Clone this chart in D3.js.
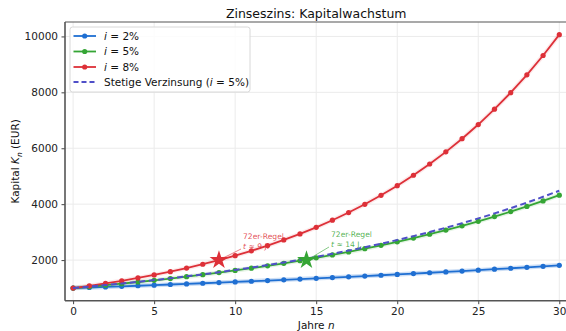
<!DOCTYPE html>
<html><head><meta charset="utf-8">
<script src="https://cdn.jsdelivr.net/npm/d3@7"></script>
<style>body{margin:0;background:#fff}svg{display:block;font-family:"DejaVu Sans",sans-serif}</style>
</head><body><svg id="c" width="566" height="331"></svg>
<script>
const years = d3.range(0, 31);
const k2 = [1000,1020,1040.4,1061.21,1082.43,1104.08,1126.16,1148.69,1171.66,1195.09,1218.99,1243.37,1268.24,1293.61,1319.48,1345.87,1372.79,1400.24,1428.25,1456.81,1485.95,1515.67,1545.98,1576.9,1608.44,1640.61,1673.42,1706.89,1741.02,1775.84,1811.36];
const k5 = [1000,1050,1102.5,1157.63,1215.51,1276.28,1340.1,1407.1,1477.46,1551.33,1628.89,1710.34,1795.86,1885.65,1979.93,2078.93,2182.87,2292.02,2406.62,2526.95,2653.3,2785.96,2925.26,3071.52,3225.1,3386.35,3555.67,3733.46,3920.13,4116.14,4321.94];
const k8 = [1000,1080,1166.4,1259.71,1360.49,1469.33,1586.87,1713.82,1850.93,1999.0,2158.92,2331.64,2518.17,2719.62,2937.19,3172.17,3425.94,3700.02,3996.02,4315.7,4660.96,5033.83,5436.54,5871.46,6341.18,6848.48,7396.35,7988.06,8627.11,9317.27,10062.66];
const kCont = [1000,1051.27,1105.17,1161.83,1221.4,1284.03,1349.86,1419.07,1491.82,1568.31,1648.72,1733.25,1822.12,1915.54,2013.75,2117.0,2225.54,2339.65,2459.6,2585.71,2718.28,2857.65,3004.17,3158.19,3320.12,3490.34,3669.3,3857.43,4055.2,4263.11,4481.69];
const seriesNames = ["i = 2%", "i = 5%", "i = 8%", "Stetige Verzinsung (i = 5%)"];
const ruleYears = [9, 14.4];
const ruleValues = [2000, 2000];
const ruleLines1 = ["72er-Regel", "72er-Regel"];
const ruleLines2 = ["9 J.", "14 J."];
const xTicks = [0,5,10,15,20,25,30];
const yTicks = [2000,4000,6000,8000,10000];

const colors = ["#1f6fd2", "#35a535", "#dd3038", "#4f4fc8"];
const halo = [0.22, 0.12, 0.1];
const svg = d3.select("#c");
const L = 65, R = 567.4, T = 22, B = 300.7;
const x = d3.scaleLinear().domain([-0.5, 30.5]).range([L, R]);
const y = d3.scaleLinear().domain([547, 10516]).range([B, T]);

// grid
const g = svg.append("g");
g.selectAll(".gx").data(xTicks).join("line").attr("x1", d=>x(d)).attr("x2", d=>x(d)).attr("y1", T).attr("y2", B).attr("stroke", "#ebebeb").attr("stroke-width", 1);
g.selectAll(".gy").data(yTicks).join("line").attr("y1", d=>y(d)).attr("y2", d=>y(d)).attr("x1", L).attr("x2", R).attr("stroke", "#ebebeb").attr("stroke-width", 1);

// axes
const xAxis = svg.append("g").attr("transform", `translate(0,${B})`).call(d3.axisBottom(x).tickValues(xTicks).tickSize(3.5).tickPadding(3));
const yAxis = svg.append("g").attr("transform", `translate(${L},0)`).call(d3.axisLeft(y).tickValues(yTicks).tickFormat(d3.format("d")).tickSize(3.5).tickPadding(3.5));
[xAxis, yAxis].forEach(a => {
  a.select(".domain").remove();
  a.selectAll("text").attr("font-size", 10.5).attr("fill", "#222").attr("font-family", "DejaVu Sans");
  a.selectAll("line").attr("stroke", "#444");
});
// spines
svg.append("line").attr("x1", L).attr("x2", L).attr("y1", T).attr("y2", B).attr("stroke", "#555").attr("stroke-width", 1.6);
svg.append("line").attr("x1", L).attr("x2", R).attr("y1", B).attr("y2", B).attr("stroke", "#555").attr("stroke-width", 1.6);
svg.append("line").attr("x1", L).attr("x2", R).attr("y1", T).attr("y2", T).attr("stroke", "#555").attr("stroke-width", 1.2);

const line = d3.line().x((d,i)=>x(years[i])).y(d=>y(d));
const data = [k2, k5, k8];
data.forEach((vals, s) => {
  svg.append("path").datum(vals).attr("d", line).attr("fill", "none").attr("stroke", colors[s]).attr("stroke-width", 4.5).attr("stroke-opacity", halo[s]);
  svg.append("path").datum(vals).attr("d", line).attr("fill", "none").attr("stroke", colors[s]).attr("stroke-width", 1.8);
  svg.append("g").selectAll("circle").data(vals).join("circle").attr("cx", (d,i)=>x(years[i])).attr("cy", d=>y(d)).attr("r", 2.6).attr("fill", colors[s]);
});
svg.append("path").datum(kCont).attr("d", d3.line().curve(d3.curveMonotoneX).x((d,i)=>x(years[i])).y(d=>y(d))).attr("fill", "none").attr("stroke", colors[3]).attr("stroke-width", 2).attr("stroke-dasharray", "6,3.5");

// 72er-Regel annotations
const annColors = [colors[2], colors[1]];
const textPos = [[243, 239], [331, 237]];
ruleYears.forEach((ry, k) => {
  const sx = x(ry), sy = y(ruleValues[k]);
  const [tx, ty] = textPos[k];
  svg.append("line").attr("x1", sx + 4).attr("y1", sy - 2).attr("x2", tx - 2).attr("y2", ty + 10).attr("stroke", annColors[k]).attr("stroke-width", 1).attr("stroke-opacity", 0.6);
  svg.append("path").attr("d", d3.symbol(d3.symbolStar, 110)()).attr("transform", `translate(${sx},${sy})`).attr("fill", annColors[k]);
  const t = svg.append("text").attr("x", tx).attr("y", ty).attr("font-size", 7.6).attr("fill", annColors[k]).attr("fill-opacity", 0.85);
  t.append("tspan").text(ruleLines1[k]);
  const t2 = svg.append("text").attr("x", tx).attr("y", ty + 9.5).attr("font-size", 7.6).attr("fill", annColors[k]).attr("fill-opacity", 0.85);
  t2.append("tspan").attr("font-style", "italic").text("t");
  t2.append("tspan").text(" ≈ " + ruleLines2[k]);
});

// title & labels
svg.append("text").attr("x", (L + R) / 2).attr("y", 18).attr("text-anchor", "middle").attr("font-size", 12.5).attr("fill", "#111").text("Zinseszins: Kapitalwachstum");
const xl = svg.append("text").attr("x", (L + R) / 2).attr("y", 329).attr("text-anchor", "middle").attr("font-size", 10.5).attr("fill", "#111");
xl.append("tspan").text("Jahre ");
xl.append("tspan").attr("font-style", "italic").text("n");
const yl = svg.append("text").attr("transform", `translate(19,${(T + B) / 2}) rotate(-90)`).attr("text-anchor", "middle").attr("font-size", 10.5).attr("fill", "#111");
yl.append("tspan").text("Kapital ");
yl.append("tspan").attr("font-style", "italic").text("K");
yl.append("tspan").attr("font-style", "italic").attr("font-size", 7.5).attr("dy", 2.5).text("n");
yl.append("tspan").attr("dy", -2.5).text(" (EUR)");

// legend
const lg = svg.append("g");
lg.append("rect").attr("x", 70).attr("y", 27).attr("width", 180).attr("height", 65).attr("rx", 2.5).attr("fill", "#fff").attr("fill-opacity", 0.85).attr("stroke", "#d8d8d8").attr("stroke-width", 1);
const ly = [36, 51.5, 67, 82];
seriesNames.forEach((name, s) => {
  const yy = ly[s];
  const h = lg.append("line").attr("x1", 73.5).attr("x2", 96).attr("y1", yy).attr("y2", yy).attr("stroke", colors[s]).attr("stroke-width", s === 3 ? 2 : 1.8);
  if (s === 3) h.attr("stroke-dasharray", "5,3");
  else lg.append("circle").attr("cx", 84.7).attr("cy", yy).attr("r", 2.6).attr("fill", colors[s]);
  const t = lg.append("text").attr("x", 104).attr("y", yy + 3.8).attr("font-size", 10.5).attr("fill", "#111");
  if (s < 3) {
    t.append("tspan").attr("font-style", "italic").text("i");
    t.append("tspan").text(name.slice(1));
  } else {
    t.append("tspan").text("Stetige Verzinsung (");
    t.append("tspan").attr("font-style", "italic").text("i");
    t.append("tspan").text(" = 5%)");
  }
});
</script></body></html>
